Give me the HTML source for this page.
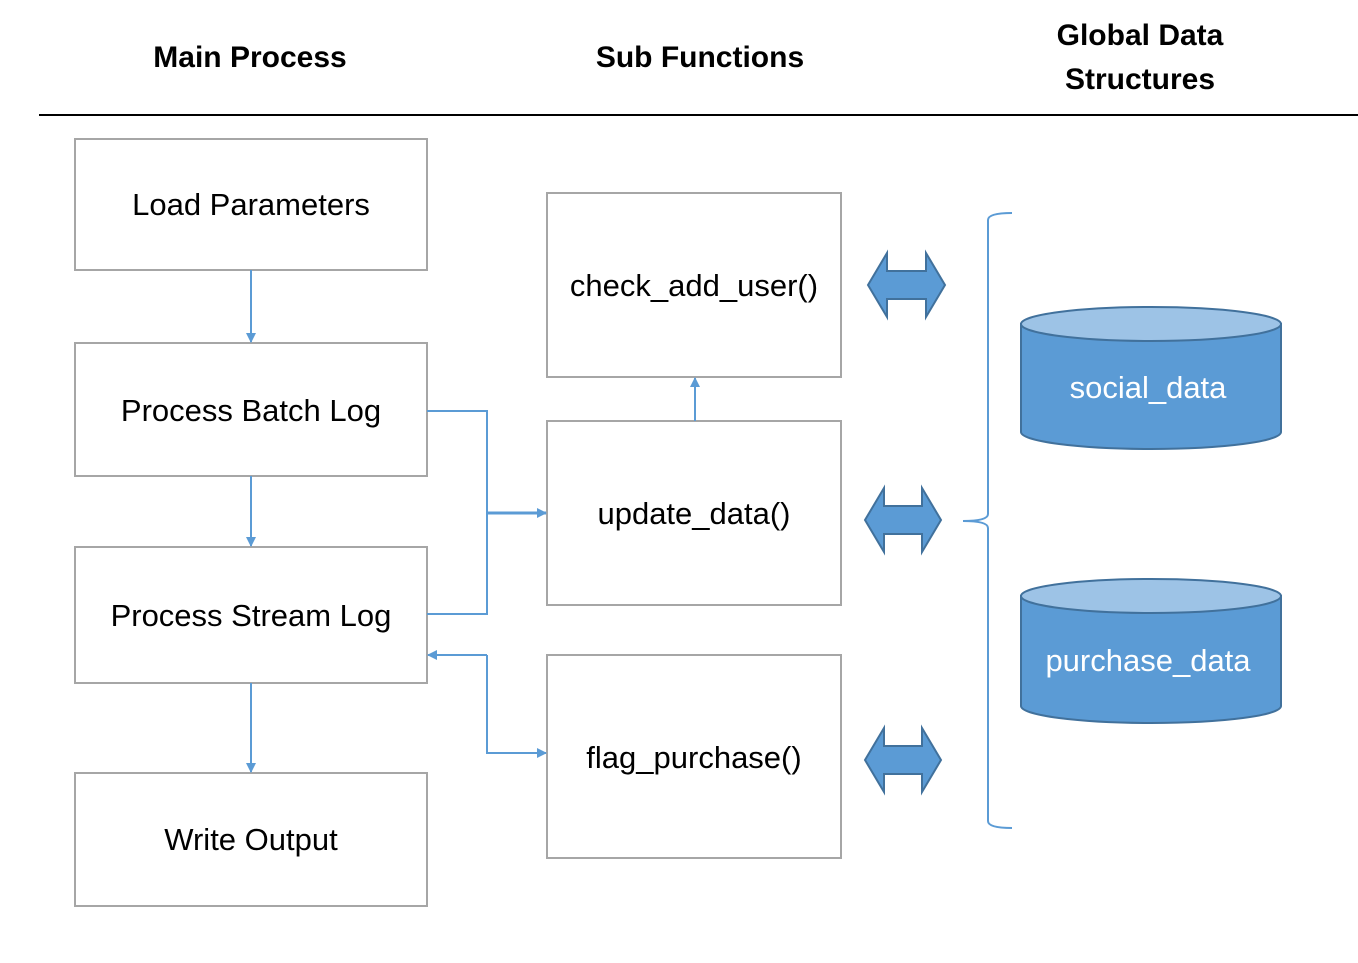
<!DOCTYPE html>
<html><head><meta charset="utf-8"><style>html,body{margin:0;padding:0;background:#fff}</style></head>
<body>
<svg width="1358" height="958" viewBox="0 0 1358 958" xmlns="http://www.w3.org/2000/svg" font-family="Liberation Sans, sans-serif">
<defs>
<marker id="a" markerWidth="10" markerHeight="10" refX="9" refY="5" orient="auto" markerUnits="userSpaceOnUse"><path d="M0,0 L10,5 L0,10 z" fill="#5b9bd5"/></marker>
</defs>
<g font-weight="bold" font-size="30" text-anchor="middle" fill="#000">
<text x="250" y="67">Main Process</text>
<text x="700" y="67">Sub Functions</text>
<text x="1140" y="45">Global Data</text>
<text x="1140" y="89">Structures</text>
</g>
<line x1="39" y1="115" x2="1358" y2="115" stroke="#000" stroke-width="2"/>
<g fill="#fff" stroke="#a6a6a6" stroke-width="2">
<rect x="75" y="139" width="352" height="131"/>
<rect x="75" y="343" width="352" height="133"/>
<rect x="75" y="547" width="352" height="136"/>
<rect x="75" y="773" width="352" height="133"/>
<rect x="547" y="193" width="294" height="184"/>
<rect x="547" y="421" width="294" height="184"/>
<rect x="547" y="655" width="294" height="203"/>
</g>
<g font-size="31" text-anchor="middle" fill="#000">
<text x="251" y="215">Load Parameters</text>
<text x="251" y="421">Process Batch Log</text>
<text x="251" y="626">Process Stream Log</text>
<text x="251" y="850">Write Output</text>
<text x="694" y="296">check_add_user()</text>
<text x="694" y="524">update_data()</text>
<text x="694" y="768">flag_purchase()</text>
</g>
<g stroke="#5b9bd5" stroke-width="2" fill="none">
<line x1="251" y1="270" x2="251" y2="342" marker-end="url(#a)"/>
<line x1="251" y1="476" x2="251" y2="546" marker-end="url(#a)"/>
<line x1="251" y1="683" x2="251" y2="772" marker-end="url(#a)"/>
<polyline points="427,411 487,411 487,614 427,614"/>
<line x1="487" y1="513" x2="546" y2="513" stroke-width="3" marker-end="url(#a)"/>
<line x1="695" y1="421" x2="695" y2="378" marker-end="url(#a)"/>
<polyline points="487,655 428,655" marker-end="url(#a)"/>
<polyline points="487,655 487,753 546,753" marker-end="url(#a)"/>
<path d="M1012,213 Q988,213 988,220 L988,514 Q988,521 963,521 Q988,521 988,528 L988,821 Q988,828 1012,828"/>
</g>
<g fill="#5b9bd5" stroke="#41719c" stroke-width="2">
<path id="dbl" d="M868,285 L887,253 L887,271 L926,271 L926,253 L945,285 L926,317 L926,299 L887,299 L887,317 Z"/>
<path d="M865,520 L884,488 L884,506 L922,506 L922,488 L941,520 L922,552 L922,534 L884,534 L884,552 Z"/>
<path d="M865,760 L884,728 L884,746 L922,746 L922,728 L941,760 L922,792 L922,774 L884,774 L884,792 Z"/>
<path d="M1021,324 L1021,432 A130,17 0 0 0 1281,432 L1281,324 Z"/>
<ellipse cx="1151" cy="324" rx="130" ry="17" fill="#9dc3e6"/>
<path d="M1021,596 L1021,706 A130,17 0 0 0 1281,706 L1281,596 Z"/>
<ellipse cx="1151" cy="596" rx="130" ry="17" fill="#9dc3e6"/>
</g>
<g font-size="31" text-anchor="middle" fill="#fff">
<text x="1148" y="398">social_data</text>
<text x="1148" y="671">purchase_data</text>
</g>
</svg>
</body></html>
